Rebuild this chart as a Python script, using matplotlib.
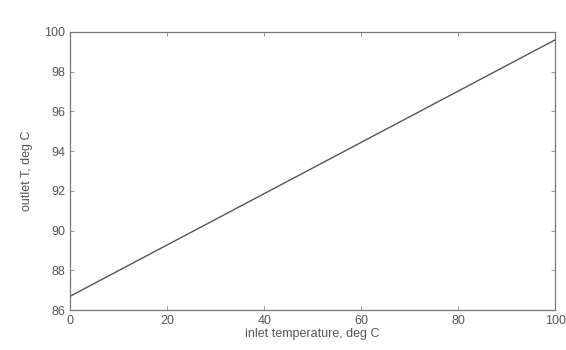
import matplotlib
matplotlib.use("Agg")
import matplotlib.pyplot as plt

# ── data ──────────────────────────────────────────────────────────────────────
inlet_temp = [0, 100]
outlet_temp = [86.7, 99.6]
x_ticks = [0, 20, 40, 60, 80, 100]
y_ticks = [86, 88, 90, 92, 94, 96, 98, 100]

# ── plot ──────────────────────────────────────────────────────────────────────
plt.rcParams["font.family"] = ["Liberation Sans", "DejaVu Sans"]
fig = plt.figure(figsize=(5.66, 3.5), dpi=100)
ax = fig.add_axes([0.124, 0.114, 0.857, 0.795])

ax.plot(inlet_temp, outlet_temp, color="#555555", linewidth=1.0)
ax.set_xlim(0, 100)
ax.set_ylim(86, 100)
ax.set_xticks(x_ticks)
ax.set_yticks(y_ticks)
ax.tick_params(direction="in", length=3, width=0.6, colors="#888888",
               labelcolor="#555555", labelsize=9, top=True, right=True)
for s in ax.spines.values():
    s.set_color("#777777")
    s.set_linewidth(0.9)

ax.set_xlabel("inlet temperature, deg C", fontsize=9, color="#555555", labelpad=1)
ax.set_ylabel("outlet T, deg C", fontsize=9, color="#555555", labelpad=8)

fig.savefig("out.png", dpi=100)
